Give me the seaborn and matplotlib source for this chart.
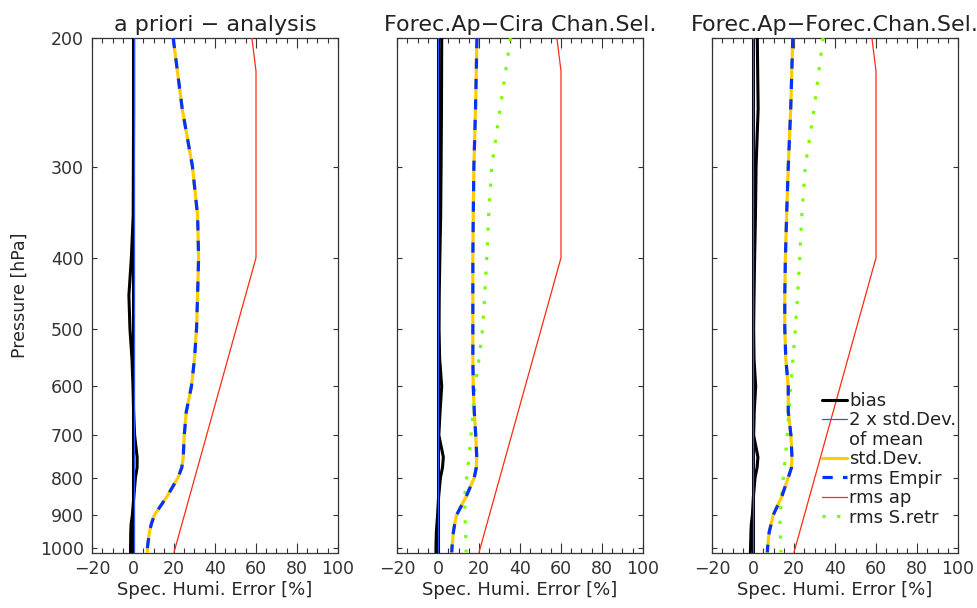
import pandas as pd
import seaborn as sns
import matplotlib.pyplot as plt
from matplotlib.lines import Line2D
from matplotlib.ticker import MultipleLocator, FixedLocator, FixedFormatter

# Pressure levels [hPa]
pressure = [200, 250, 300, 350, 400, 450, 500, 550, 600, 650, 700,
            750, 775, 800, 850, 900, 925, 950, 1000, 1013]

titles = ["a priori \u2212 analysis",
          "Forec.Ap\u2212Cira Chan.Sel.",
          "Forec.Ap\u2212Forec.Chan.Sel."]

# bias [%]
bias_1 = [0.3, 0.3, 0.2, 0.1, -0.8, -2.0, -1.5, -0.5, 0.0, 0.3, 0.8,
          2.0, 2.0, 1.2, 0.4, -0.3, -0.9, -1.1, -1.2, -1.2]
bias_2 = [1.8, 1.7, 1.5, 1.3, 0.9, 0.6, 0.5, 0.8, 1.8, 1.0, 0.4,
          2.6, 2.2, 1.2, 0.3, -0.2, -0.5, -0.8, -1.0, -1.0]
bias_3 = [2.1, 2.5, 1.5, 1.2, 0.8, 0.5, 0.3, 0.5, 1.3, 0.6, 0.3,
          2.4, 2.0, 1.0, 0.2, -0.3, -0.8, -1.0, -1.2, -1.3]

# 2 x std.Dev. of mean [%]
sdm_1 = [0.3, 0.3, 0.3, 0.3, 0.3, 0.3, 0.3, 0.3, 0.3, 0.3, 0.3,
         0.3, 0.3, 0.3, 0.3, 0.3, 0.3, 0.3, 0.3, 0.3]
sdm_2 = [0.2, 0.2, 0.2, 0.2, 0.2, 0.2, 0.2, 0.2, 0.2, 0.2, 0.2,
         0.2, 0.2, 0.2, 0.2, 0.2, 0.2, 0.2, 0.2, 0.2]
sdm_3 = [0.2, 0.2, 0.2, 0.2, 0.2, 0.2, 0.2, 0.2, 0.2, 0.2, 0.2,
         0.2, 0.2, 0.2, 0.2, 0.2, 0.2, 0.2, 0.2, 0.2]

# std.Dev. / rms Empir [%] (identical curves)
std_1 = [19.6, 24.0, 29.0, 31.5, 32.0, 31.5, 31.0, 30.0, 28.5, 26.0, 25.0,
         24.5, 23.8, 22.0, 16.5, 10.5, 9.0, 8.0, 7.0, 7.0]
std_2 = [19.0, 18.3, 17.5, 17.2, 17.0, 17.0, 17.0, 17.0, 17.2, 17.7, 18.4,
         18.9, 18.7, 17.7, 13.7, 9.1, 8.2, 7.5, 6.8, 6.7]
std_3 = [19.4, 18.4, 17.2, 16.4, 15.8, 15.5, 15.5, 16.0, 17.2, 17.2, 18.5,
         19.0, 18.8, 17.2, 14.0, 9.9, 8.9, 7.9, 7.1, 7.0]

# rms S.retr [%] (not in first panel)
sretr_2 = [35.4, 30.3, 26.2, 24.7, 23.8, 22.8, 21.8, 20.0, 18.0, 17.2, 16.1,
           15.1, 14.6, 14.0, 13.0, 13.2, 13.3, 13.5, 13.7, 13.7]
sretr_3 = [34.2, 29.8, 25.5, 23.8, 22.8, 21.8, 20.7, 19.5, 18.3, 17.5, 16.7,
           15.8, 15.3, 14.8, 14.0, 13.2, 13.2, 13.3, 13.6, 13.6]

# rms ap [%]
ap_pressure = [200, 222, 400, 1013]
rms_ap = [58, 60, 60, 20]

panels = [
    (bias_1, sdm_1, std_1, None),
    (bias_2, sdm_2, std_2, sretr_2),
    (bias_3, sdm_3, std_3, sretr_3),
]

sns.set_style("ticks")
plt.rcParams["font.family"] = ["DejaVu Sans"]
plt.rcParams["axes.edgecolor"] = "#333333"
plt.rcParams["axes.linewidth"] = 0.9
plt.rcParams["text.color"] = "#222222"
plt.rcParams["xtick.color"] = "#333333"
plt.rcParams["ytick.color"] = "#333333"

fig = plt.figure(figsize=(9.77, 6.08), dpi=100)
lefts = [92, 397, 712]
W, H = 977.0, 608.0

c_yellow = "#FFCC00"
c_blue = "#0033FF"
c_thin = "#3355FF"
c_red = "#FF2A10"
c_green = "#77FF00"

for i, (bias, sdm, std, sretr) in enumerate(panels):
    ax = fig.add_axes([lefts[i] / W, 1 - 553 / H, 246 / W, 515 / H])
    df = pd.DataFrame({"p": pressure, "bias": bias, "sdm": sdm, "std": std})
    ap = pd.DataFrame({"p": ap_pressure, "ap": rms_ap})

    ax.axvline(0, color="black", lw=2.2, zorder=2)
    sns.lineplot(data=df, x="bias", y="p", orient="y", sort=False,
                 estimator=None, color="black", lw=2.2, ax=ax, zorder=3)
    sns.lineplot(data=df, x="sdm", y="p", orient="y", sort=False,
                 estimator=None, color=c_thin, lw=0.9, ax=ax, zorder=4)
    sns.lineplot(data=df, x="std", y="p", orient="y", sort=False,
                 estimator=None, color=c_yellow, lw=2.3, ax=ax, zorder=3)
    sns.lineplot(data=df, x="std", y="p", orient="y", sort=False,
                 estimator=None, color=c_blue, lw=2.3, ax=ax, zorder=4,
                 linestyle=(0, (3.2, 3.2)))
    sns.lineplot(data=ap, x="ap", y="p", orient="y", sort=False,
                 estimator=None, color=c_red, lw=0.9, ax=ax, zorder=3)
    if sretr is not None:
        sr = pd.DataFrame({"p": pressure, "sretr": sretr})
        sns.lineplot(data=sr, x="sretr", y="p", orient="y", sort=False,
                     estimator=None, color=c_green, lw=2.3, ax=ax, zorder=3,
                     linestyle=(0, (1, 3.6)), dash_capstyle="butt")

    ax.set_yscale("log")
    ax.set_ylim(1015, 200)
    ax.set_xlim(-20, 100)
    ax.yaxis.set_major_locator(FixedLocator([200, 300, 400, 500, 600, 700, 800, 900, 1000]))
    ax.yaxis.set_minor_locator(FixedLocator([]))
    if i == 0:
        ax.yaxis.set_major_formatter(FixedFormatter(["200", "300", "400", "500", "600",
                                                     "700", "800", "900", "1000"]))
        ax.set_ylabel("Pressure [hPa]", fontsize=12.5, labelpad=8)
    else:
        ax.set_yticklabels([])
        ax.set_ylabel("")
    ax.xaxis.set_major_locator(MultipleLocator(20))
    ax.xaxis.set_minor_locator(MultipleLocator(5))
    ax.tick_params(axis="x", which="major", direction="in", length=7.2, width=0.8,
                   top=True, bottom=True, labelsize=12.5, pad=5)
    ax.tick_params(axis="x", which="minor", direction="in", length=3.6, width=0.8,
                   top=True, bottom=True)
    ax.tick_params(axis="y", which="major", direction="in", length=3.6, width=0.8,
                   left=True, right=True, labelsize=12.5, pad=6)
    ax.set_xlabel("Spec. Humi. Error [%]", fontsize=13, labelpad=2)
    ax.set_title(titles[i], fontsize=16, pad=5)

    if i == 2:
        handles = [
            Line2D([], [], color="black", lw=2.2),
            Line2D([], [], color=c_thin, lw=0.9),
            Line2D([], [], color="none"),
            Line2D([], [], color=c_yellow, lw=2.3),
            Line2D([], [], color=c_blue, lw=2.3, linestyle=(0, (3.2, 3.2))),
            Line2D([], [], color=c_red, lw=0.9),
            Line2D([], [], color=c_green, lw=2.3, linestyle=(0, (1, 3.6))),
        ]
        labels = ["bias", "2 x std.Dev.", "of mean", "std.Dev.", "rms Empir",
                  "rms ap", "rms S.retr"]
        fig.legend(handles, labels, loc="upper left",
                   bbox_to_anchor=(822 / W, 1 - 392 / H), frameon=False,
                   fontsize=13, handlelength=1.4, handletextpad=0.1,
                   labelspacing=0.08, borderpad=0, borderaxespad=0)

fig.savefig("out.png", dpi=100)
